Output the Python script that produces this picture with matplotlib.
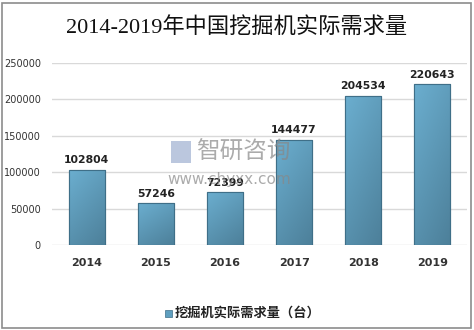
import numpy as np
import matplotlib.pyplot as plt
from matplotlib.patches import Rectangle

# 数据
years = ['2014', '2015', '2016', '2017', '2018', '2019']
demand = [102804, 57246, 72399, 144477, 204534, 220643]
y_ticks = [0, 50000, 100000, 150000, 200000, 250000]

title = '2014-2019年中国挖掘机实际需求量'
legend_label = '挖掘机实际需求量（台）'

cjk = ['Noto Sans CJK SC', 'DejaVu Sans']
plt.rcParams['font.family'] = cjk

fig = plt.figure(figsize=(4.74, 3.30), dpi=100)
ax = fig.add_axes([52 / 474, 85 / 330, 415 / 474, 182 / 330])

x = np.arange(len(years))
w = 0.52
bars = ax.bar(x, demand, width=w, color='#5f9fbf', edgecolor='#3f6f88',
              linewidth=0.8, zorder=3)

# 渐变填充
grad = np.zeros((50, 50, 3))
c_top = np.array([0x6b, 0xae, 0xcf]) / 255
c_bot = np.array([0x4d, 0x80, 0x9a]) / 255
for i in range(50):
    for j in range(50):
        t = 0.65 * i / 49 + 0.35 * j / 49
        grad[i, j] = c_top * (1 - t) + c_bot * t
for b in bars:
    bx, by = b.get_x(), b.get_y()
    bw, bh = b.get_width(), b.get_height()
    im = ax.imshow(grad, extent=[bx, bx + bw, by, by + bh], origin='upper',
                   aspect='auto', zorder=3.5)
    im.set_clip_path(b)
    ax.add_patch(Rectangle((bx, by), bw, bh, fill=False, edgecolor='#3f6f88',
                           linewidth=0.8, zorder=4))

for xi, v in zip(x, demand):
    ax.text(xi, v + 6500, str(v), ha='center', va='bottom', fontsize=7.8,
            fontweight='bold', color='#222222', family=['DejaVu Sans'], zorder=6)

ax.set_xlim(-0.5, len(years) - 0.5)
ax.set_ylim(0, 250000)
ax.set_yticks(y_ticks)
ax.set_yticklabels([str(t) for t in y_ticks], fontsize=7, color='#333333',
                   family=['DejaVu Sans'])
ax.set_xticks(x)
ax.set_xticklabels(years, fontsize=8, fontweight='bold', color='#333333',
                   family=['DejaVu Sans'])
ax.tick_params(axis='both', length=0)
ax.tick_params(axis='y', pad=8)
ax.tick_params(axis='x', pad=9)
ax.grid(axis='y', color='#d9d9d9', linewidth=1, zorder=0)
for s in ax.spines.values():
    s.set_visible(False)

# 标题
fig.text(0.5, 1 - 27 / 330, title, ha='center', va='center', fontsize=16,
         family=['Liberation Serif', 'Noto Sans CJK SC'], color='#111111')

# 图例
fig.patches.append(Rectangle((165 / 474, 1 - 317 / 330), 7 / 474, 7 / 330,
                             transform=fig.transFigure, facecolor='#5f9fbf',
                             edgecolor='#3f6f88', linewidth=0.5))
fig.text(175 / 474, 1 - 313 / 330, legend_label, ha='left', va='center',
         fontsize=9.5, fontweight='bold', color='#222222')

# 水印
fig.text(196 / 474, 1 - 152 / 330, '智研咨询', ha='left', va='center',
         fontsize=17, color='#888888', alpha=0.7, zorder=10)
fig.text(167 / 474, 1 - 179 / 330, 'www.chyxx.com', ha='left', va='center',
         fontsize=11, color='#888888', alpha=0.7, zorder=10,
         family=['DejaVu Sans'])
fig.patches.append(Rectangle((171 / 474, 1 - 163 / 330), 20 / 474, 22 / 330,
                             transform=fig.transFigure, facecolor='#8fa3c8',
                             edgecolor='none', alpha=0.6, zorder=10))

# 外框
fig.patches.append(Rectangle((2 / 474, 2 / 330), 469 / 474, 325 / 330,
                             transform=fig.transFigure, fill=False,
                             edgecolor='#8c8c8c', linewidth=1.2))

fig.savefig('out.png', dpi=100)
